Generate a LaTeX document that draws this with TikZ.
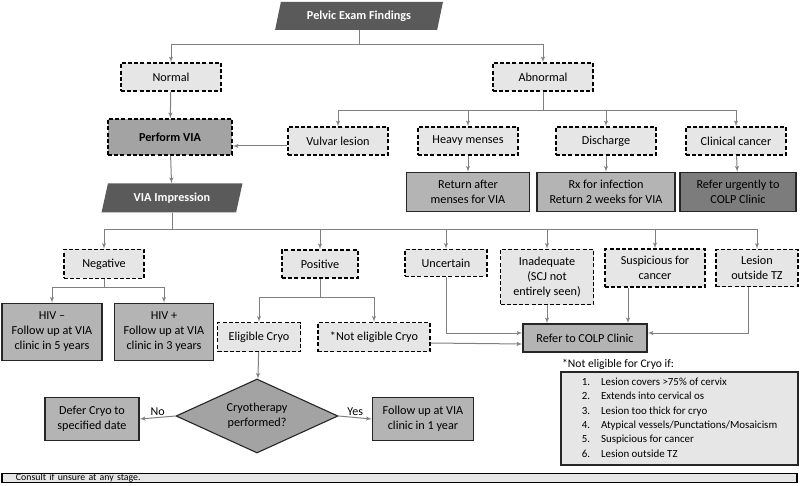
\documentclass[tikz,border=0pt]{standalone}
\usepackage{fontspec}
\setmainfont{Carlito}
\usetikzlibrary{arrows}
\usetikzlibrary{positioning}
\usetikzlibrary{shapes.geometric}
\definecolor{darkbox}{HTML}{5A5A5A}
\definecolor{midbox}{HTML}{B4B4B4}
\definecolor{viabox}{HTML}{A3A3A3}
\definecolor{urgbox}{HTML}{7C7C7C}
\definecolor{lightbox}{HTML}{E6E6E6}
\definecolor{linkgray}{HTML}{808080}
\tikzset{header/.style = {trapezium, trapezium left angle=70, trapezium right angle=110,
                          trapezium stretches=true, fill=darkbox, text=white,
                          font=\fontsize{12.2}{15}\selectfont\bfseries, inner sep=0}}
\tikzset{finding/.style = {draw=black, line width=1.3pt, dash pattern=on 4pt off 2.2pt,
                           fill=lightbox, align=center, inner sep=0}}
\tikzset{outcome/.style = {draw=black!85, line width=1.3pt, fill=midbox, align=center, inner sep=0}}
\tikzset{link/.style = {draw=linkgray, line width=1pt, -latex'}}
\tikzset{tag/.style = {font=\fontsize{12}{14}\selectfont, inner sep=1pt}}

\begin{document}
\begin{tikzpicture}[x=1pt, y=-1pt, font=\fontsize{12.2}{15}\selectfont]
    \useasboundingbox (0,0) rectangle (800,486);

    \node [header, minimum width=168, minimum height=28] (pelvic) at (359,16) {Pelvic Exam Findings};

    \node [finding, minimum width=100, minimum height=28] (normal) at (171,77) {Normal};
    \node [finding, minimum width=100, minimum height=28] (abnormal) at (543,77) {Abnormal};

    \node [finding, fill=viabox, minimum width=124, minimum height=36,
           font=\fontsize{12.2}{15}\selectfont\bfseries] (perform) at (170,137) {Perform VIA};
    \node [finding, minimum width=100, minimum height=28] (vulvar) at (338,141) {Vulvar lesion};
    \node [finding, minimum width=100, minimum height=28] (heavy) at (468,141) {Heavy menses};
    \node [finding, minimum width=100, minimum height=28] (discharge) at (606,141) {Discharge};
    \node [finding, minimum width=100, minimum height=28] (clinical) at (736,141) {Clinical cancer};

    \node [outcome, minimum width=123, minimum height=39] (return) at (468,192) {Return after\\menses for VIA};
    \node [outcome, minimum width=138, minimum height=39] (rx) at (606,192) {Rx for infection\\Return 2 weeks for VIA};
    \node [outcome, fill=urgbox, minimum width=116, minimum height=39] (urgent) at (738,192) {Refer urgently to\\COLP Clinic};

    \node [header, minimum width=142, minimum height=29] (impression) at (172,198) {VIA Impression};

    \node [finding, minimum width=80, minimum height=29] (negative) at (104,264) {Negative};
    \node [finding, minimum width=76, minimum height=28] (positive) at (320,264) {Positive};
    \node [finding, minimum width=82, minimum height=27] (uncertain) at (446,263) {Uncertain};
    \node [finding, minimum width=93, minimum height=55] (inadequate) at (547,277) {Inadequate\\(SCJ not\\entirely seen)};
    \node [finding, minimum width=100, minimum height=38] (suspicious) at (655,268) {Suspicious for\\cancer};
    \node [finding, minimum width=82, minimum height=37] (outside) at (757,268) {Lesion\\outside TZ};

    \node [outcome, minimum width=100, minimum height=57] (hivneg) at (52,332) {HIV --\\Follow up at VIA\\clinic in 5 years};
    \node [outcome, minimum width=99, minimum height=57] (hivpos) at (164,332) {HIV +\\Follow up at VIA\\clinic in 3 years};
    \node [finding, minimum width=83, minimum height=29] (eligible) at (259,337) {Eligible Cryo};
    \node [finding, minimum width=112, minimum height=29] (noteligible) at (374,337) {*Not eligible Cryo};
    \node [outcome, minimum width=124, minimum height=28] (refer) at (585,338) {Refer to COLP Clinic};

    \node [diamond, draw=black!85, line width=1.1pt, fill=viabox, aspect=2.2, inner sep=0,
           minimum width=162, minimum height=74, align=center] (cryo) at (257,416) {Cryotherapy\\performed?};
    \node [outcome, minimum width=94, minimum height=43] (defer) at (92,419) {Defer Cryo to\\specified date};
    \node [outcome, minimum width=101, minimum height=43] (followup) at (423,419) {Follow up at VIA\\clinic in 1 year};

    \node [anchor=west, inner sep=0, font=\fontsize{11.6}{13}\selectfont] (notehead) at (562,364) {*Not eligible for Cryo if:};
    \node [draw=black!85, line width=1.1pt, fill=lightbox, minimum width=237, minimum height=93,
           inner sep=0, font=\fontsize{10.9}{14.4}\selectfont] (criteria) at (679.5,418.5) {%
      \begin{tabular}{@{}l@{\hspace{11pt}}l@{}}
        1. & Lesion covers >75\% of cervix\\
        2. & Extends into cervical os\\
        3. & Lesion too thick for cryo\\
        4. & Atypical vessels/Punctations/Mosaicism\\
        5. & Suspicious for cancer\\
        6. & Lesion outside TZ
      \end{tabular}};

    \node [draw=black, line width=1.3pt, fill=lightbox, text width=767, inner xsep=14, inner ysep=0,
           text height=6.8, text depth=1.8, font=\fontsize{9.8}{10}\selectfont] (consult) at (399.5,478) {Consult if unsure at any stage.};

    \draw [link] (pelvic.south) -- ++(0,14) -| (normal);
    \draw [link] (pelvic.south) -- ++(0,14) -| (abnormal);
    \foreach \n in {vulvar,heavy,discharge,clinical} {
      \draw [link] (abnormal.south) -- ++(0,19) -| (\n);
    }
    \draw [link] (heavy) -- (return);
    \draw [link] (discharge) -- (rx);
    \draw [link] (clinical) -- (urgent);
    \draw [link] (normal) -- (perform);
    \draw [link] ([yshift=-5pt]vulvar.west) -- ([yshift=-5pt]vulvar.west -| perform.east);
    \draw [link] (perform) -- (impression);

    \foreach \n in {negative,positive,uncertain,inadequate,suspicious,outside} {
      \draw [link] (impression.south) -- ++(0,17) -| (\n);
    }
    \draw [link] (negative.south) -- ++(0,8) -| (hivneg);
    \draw [link] (negative.south) -- ++(0,8) -| (hivpos);
    \draw [link] (positive.south) -- ++(0,19) -| (eligible);
    \draw [link] (positive.south) -- ++(0,19) -| (noteligible);

    \draw [link] (uncertain.south) |- ([yshift=5pt]refer.west);
    \draw [link] ([yshift=-6pt]noteligible.east) -- ([yshift=-6pt]refer.west);
    \draw [link] (inadequate.south) -- (inadequate.south |- refer.north);
    \draw [link] ([xshift=-27pt]suspicious.south) -- ([xshift=-27pt]suspicious.south |- refer.north);
    \draw [link] ([xshift=-9pt]outside.south) |- ([yshift=5pt]refer.east);

    \draw [link] (eligible) -- (cryo);
    \draw [link] (cryo.west) -- node [tag, above] {No} (defer.east);
    \draw [link] (cryo.east) -- node [tag, above] {Yes} (followup.west);
\end{tikzpicture}
\end{document}
